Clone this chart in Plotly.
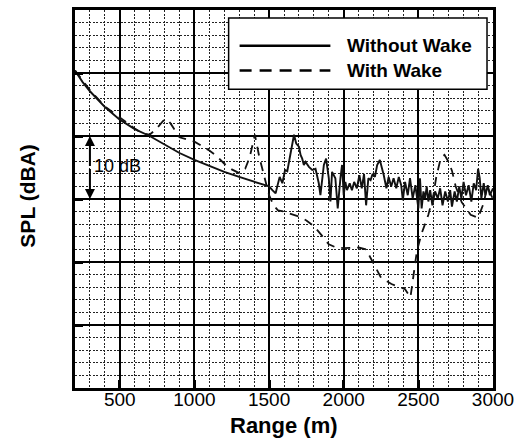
import plotly.graph_objects as go

# ---- data ----
range_without = [200, 250, 300, 400, 500, 600, 700, 800, 900, 1000, 1100, 1200, 1300, 1400, 1500,
                 1522, 1544, 1555, 1571, 1589, 1607, 1622, 1633, 1656, 1667, 1682, 1700, 1711, 1722,
                 1733, 1744, 1767, 1789, 1811, 1833, 1844, 1867, 1882, 1900, 1911, 1922, 1944, 1960,
                 1978, 1989, 2000, 2011, 2022, 2040, 2055, 2070, 2088, 2105, 2121, 2136, 2150, 2165,
                 2180, 2194, 2209, 2224, 2242, 2255, 2268, 2286, 2301, 2318, 2334, 2352, 2369, 2385,
                 2396, 2411, 2429, 2444, 2462, 2480, 2500, 2511, 2522, 2534, 2545, 2556, 2567, 2579,
                 2594, 2612, 2630, 2646, 2662, 2680, 2698, 2713, 2725, 2743, 2758, 2774, 2788, 2803,
                 2819, 2837, 2855, 2871, 2887, 2900, 2911, 2922, 2938, 2949, 2965, 2979, 3000]
spl_without = [80.4, 78.6, 77.1, 74.6, 72.6, 71.1, 70.0, 68.6, 67.3, 66.2, 65.2, 64.3, 63.5, 62.7, 62.0,
               61.4, 60.9, 62.0, 63.5, 62.5, 64.6, 64.4, 65.9, 68.8, 70.2, 68.8, 68.3, 67.0, 66.4,
               65.4, 65.9, 65.1, 64.6, 64.8, 62.5, 60.6, 65.4, 66.4, 63.3, 59.6, 64.3, 63.3, 58.5,
               63.3, 65.4, 60.6, 62.7, 61.4, 62.5, 61.4, 62.7, 61.7, 63.8, 61.7, 64.0, 59.0, 63.3,
               63.0, 64.0, 63.5, 65.4, 66.2, 65.1, 63.8, 61.7, 63.5, 62.0, 63.3, 61.7, 63.5, 62.2,
               59.8, 62.7, 60.6, 63.3, 60.1, 62.2, 58.5, 63.3, 58.5, 61.2, 60.1, 62.0, 59.6, 61.4,
               59.0, 61.2, 60.1, 61.7, 59.0, 61.2, 59.6, 61.4, 58.8, 61.2, 59.6, 62.0, 60.1, 62.7,
               60.6, 62.2, 59.6, 62.5, 61.4, 64.8, 63.3, 60.1, 62.5, 60.6, 62.2, 60.6, 61.7]

range_with = [200, 300, 400, 500, 600, 650, 700, 744, 790, 815, 840, 900, 1000, 1100, 1150, 1200,
              1250, 1300, 1340, 1370, 1405, 1435, 1470, 1500, 1530, 1560, 1600, 1650, 1700, 1750,
              1800, 1850, 1900, 1950, 2000, 2100, 2150, 2190, 2250, 2320, 2410, 2447, 2467, 2490,
              2520, 2567, 2600, 2620, 2650, 2675, 2700, 2725, 2750, 2790, 2850, 2900, 2940, 2960,
              2980, 3000]
spl_with = [80.4, 77.3, 74.7, 72.9, 71.2, 70.4, 70.2, 71.1, 72.4, 72.7, 72.0, 69.8, 69.1, 67.7, 66.8, 65.6,
            64.7, 64.1, 64.8, 66.6, 70.2, 66.6, 63.5, 60.6, 59.0, 58.2, 58.0, 57.6, 57.2, 56.6,
            55.7, 54.3, 52.8, 52.3, 52.2, 52.3, 52.0, 50.2, 47.5, 46.5, 45.7, 44.4, 48.0, 51.7,
            54.4, 57.5, 60.5, 63.5, 66.5, 67.0, 66.0, 64.5, 62.0, 59.5, 57.5, 57.0, 59.5, 62.0,
            61.0, 60.0]

series_names = ["Without Wake", "With Wake"]
x_tick_vals = [500, 1000, 1500, 2000, 2500, 3000]
x_tick_text = ["500", "1000", "1500", "2000", "2500", "3000"]

fig = go.Figure()
fig.add_trace(go.Scatter(x=range_without, y=spl_without, mode="lines", name=series_names[0],
                         line=dict(color="#111111", width=1.9), showlegend=False))
fig.add_trace(go.Scatter(x=range_with, y=spl_with, mode="lines", name=series_names[1],
                         line=dict(color="#111111", width=1.8, dash="9px,7px"), showlegend=False))

L, R, T, B = 75, 27, 7, 57
W, H = 521, 445
pw, ph = W - L - R, H - T - B

def px(xp):
    return (xp - L) / pw

def py(yp):
    return (H - B - yp) / ph

shapes = [
    dict(type="rect", xref="paper", yref="paper", x0=px(229), x1=px(488), y0=py(87), y1=py(15),
         line=dict(color="black", width=1.5), fillcolor="white", layer="above"),
    dict(type="line", xref="paper", yref="paper", x0=px(240), x1=px(331), y0=py(43), y1=py(43),
         line=dict(color="black", width=2.5), layer="above"),
    dict(type="line", xref="paper", yref="paper", x0=px(240), x1=px(331), y0=py(68), y1=py(68),
         line=dict(color="black", width=2.5, dash="12px,8px"), layer="above"),
]

annotations = [
    dict(xref="paper", yref="paper", x=px(346), y=py(43), text="<b>" + series_names[0] + "</b>",
         showarrow=False, xanchor="left", yanchor="middle",
         font=dict(family="Liberation Sans, Arial", size=19, color="black")),
    dict(xref="paper", yref="paper", x=px(346), y=py(68), text="<b>" + series_names[1] + "</b>",
         showarrow=False, xanchor="left", yanchor="middle",
         font=dict(family="Liberation Sans, Arial", size=19, color="black")),
    dict(xref="paper", yref="paper", x=px(285), y=py(426), text="<b>Range (m)</b>",
         showarrow=False, xanchor="center", yanchor="middle",
         font=dict(family="Liberation Sans, Arial", size=22, color="black")),
    dict(xref="paper", yref="paper", x=px(27), y=py(195), text="<b>SPL (dBA)</b>", textangle=-90,
         showarrow=False, xanchor="center", yanchor="middle",
         font=dict(family="Liberation Sans, Arial", size=21, color="black")),
    dict(x=317, y=65.3, text="10 dB", showarrow=False, xanchor="left", yanchor="middle",
         font=dict(family="Liberation Sans, Arial", size=18, color="black")),
    dict(x=300, y=70, ax=300, ay=65, axref="x", ayref="y", text="", showarrow=True,
         arrowhead=2, arrowsize=1, arrowwidth=2, arrowcolor="black"),
    dict(x=300, y=60, ax=300, ay=65, axref="x", ayref="y", text="", showarrow=True,
         arrowhead=2, arrowsize=1, arrowwidth=2, arrowcolor="black"),
]

fig.update_layout(
    width=W, height=H,
    margin=dict(l=L, r=R, t=T, b=B),
    paper_bgcolor="white", plot_bgcolor="white",
    shapes=shapes, annotations=annotations,
    font=dict(family="Liberation Sans, Arial", color="black"),
)
fig.update_xaxes(
    range=[200, 3000], tickmode="array", tickvals=x_tick_vals, ticktext=x_tick_text,
    showgrid=True, gridcolor="black", gridwidth=1.5,
    ticks="inside", ticklen=8, tickwidth=2.5, tickcolor="black",
    showline=True, linecolor="black", linewidth=2.5, mirror=True,
    tickfont=dict(size=19, color="black"), ticklabelstandoff=-8,
    minor=dict(dtick=100, tick0=0, showgrid=True, gridcolor="#222222", gridwidth=1.1, griddash="2px,1.5px"),
    zeroline=False,
)
fig.update_yaxes(
    range=[30, 90], tick0=30, dtick=10, showticklabels=False,
    showgrid=True, gridcolor="black", gridwidth=1.5,
    ticks="inside", ticklen=8, tickwidth=2.5, tickcolor="black",
    showline=True, linecolor="black", linewidth=2.5, mirror=True,
    minor=dict(dtick=2, tick0=30, showgrid=True, gridcolor="#222222", gridwidth=1.1, griddash="2px,1.5px"),
    zeroline=False,
)

fig.write_html("out.html")
